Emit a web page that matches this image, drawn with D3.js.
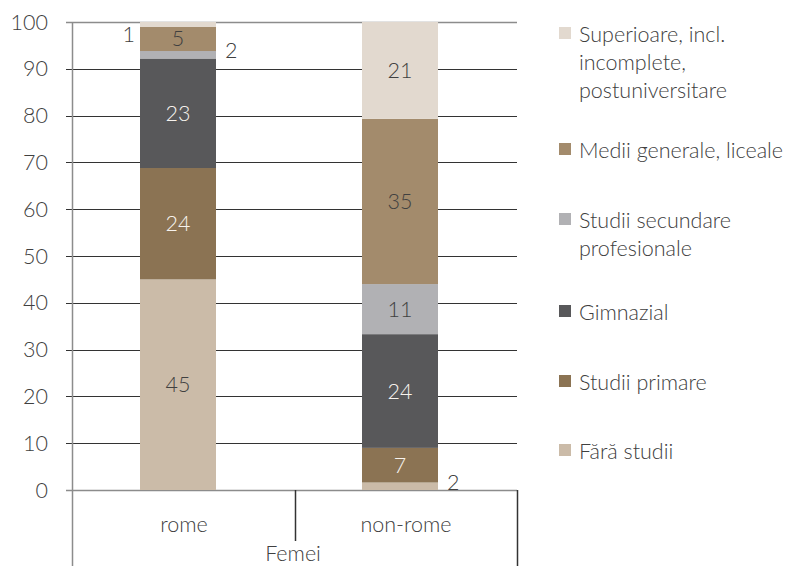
<!DOCTYPE html>
<html>
<head>
<meta charset="utf-8">
<script src="https://cdn.jsdelivr.net/npm/d3@7"></script>
<style>
  body { margin: 0; background: #fff; }
  text { font-family: Lato, "Open Sans", sans-serif; font-weight: 300; }
</style>
</head>
<body>
<div id="container"></div>
<script>

// Data (stack order bottom -> top)
var groups = ["rome", "non-rome"];
var groupLabel = "Femei";
var levels = ["Fără studii", "Studii primare", "Gimnazial", "Studii secundare profesionale", "Medii generale, liceale", "Superioare, incl. incomplete, postuniversitare"];
var romeValues = [45, 23.8, 23.4, 1.6, 5.2, 1.0];
var nonRomeValues = [1.6, 7.4, 24.3, 10.7, 35.3, 20.7];
var yTicks = [0, 10, 20, 30, 40, 50, 60, 70, 80, 90, 100];

var colors = ["#cbbba8", "#8b7353", "#58585a", "#b1b1b4", "#a38b6c", "#e2d9cf"];
var darkSeg = [false, true, true, false, false, false];

// Legend lines (top item first, as in the picture)
var legendLines = [
  ["Superioare, incl.", "incomplete,", "postuniversitare"],
  ["Medii generale, liceale"],
  ["Studii secundare", "profesionale"],
  ["Gimnazial"],
  ["Studii primare"],
  ["Fără studii"]
];
var legendTop = [34, 150, 220, 312, 382, 451];

var width = 786,
    height = 566;
var fontSize = "21.5px";
var textColor = "#404040";

var svg = d3.select("#container")
            .append("svg")
              .attr("width", width)
              .attr("height", height);

// Scales
var x = d3.scaleBand()
          .domain(groups)
          .range([73, 517]);

var y = d3.scaleLinear()
          .domain([0, 100])
          .range([490, 22]);

var barWidth = 76;

// Gridlines
svg.selectAll(".grid")
    .data(yTicks)
    .enter()
    .append("line")
      .attr("x1", 66)
      .attr("x2", 517)
      .attr("y1", function(d) { return Math.round(y(d)) + 0.5; })
      .attr("y2", function(d) { return Math.round(y(d)) + 0.5; })
      .attr("stroke", function(d) { return (d == 0 || d == 100) ? "#8c8c8c" : "#333333"; })
      .attr("stroke-width", function(d) { return (d == 0 || d == 100) ? 1.5 : 1; });

// Tick labels
svg.selectAll(".ytick")
    .data(yTicks)
    .enter()
    .append("text")
      .attr("x", 48)
      .attr("y", function(d) { return y(d); })
      .attr("dy", "0.35em")
      .attr("text-anchor", "end")
      .attr("fill", textColor)
      .style("font-size", fontSize)
      .text(function(d) { return d; });

// Stack data
var rows = levels.map(function(l, i) {
  return { level: l, rome: romeValues[i], "non-rome": nonRomeValues[i] };
});

groups.forEach(function(g) {
  var base = 0;
  var cx = x(g) + x.bandwidth() / 2 - 6;
  rows.forEach(function(r, i) {
    var v = r[g];
    var y0 = base, y1 = base + v;
    base = y1;

    svg.append("rect")
        .attr("x", cx - barWidth / 2)
        .attr("width", barWidth)
        .attr("y", y(y1))
        .attr("height", y(y0) - y(y1))
        .attr("fill", colors[i]);

    var lab = Math.round(v);
    var t = svg.append("text")
                .style("font-size", fontSize)
                .attr("fill", textColor)
                .text(lab);
    if (v >= 4) {
      t.attr("x", cx)
       .attr("y", y((y0 + y1) / 2))
       .attr("dy", "0.35em")
       .attr("text-anchor", "middle")
       .attr("fill", darkSeg[i] ? "#f7f3ee" : textColor);
    } else if (g == "rome" && i == levels.length - 1) {
      // top label sits left of the bar
      t.attr("x", cx - barWidth / 2 - 5)
       .attr("y", y(y1) + 20)
       .attr("text-anchor", "end");
    } else {
      t.attr("x", cx + barWidth / 2 + 9)
       .attr("y", y((y0 + y1) / 2) - 4)
       .attr("dy", "0.35em")
       .attr("text-anchor", "start");
    }
  });
});

// Axes lines
svg.append("line")
    .attr("x1", 72.5).attr("x2", 72.5)
    .attr("y1", 22).attr("y2", 566)
    .attr("stroke", "#8c8c8c")
    .attr("stroke-width", 1.5);

svg.append("line")
    .attr("x1", 295.5).attr("x2", 295.5)
    .attr("y1", 490).attr("y2", 541)
    .attr("stroke", "#333333")
    .attr("stroke-width", 1.5);

svg.append("line")
    .attr("x1", 517.5).attr("x2", 517.5)
    .attr("y1", 490).attr("y2", 566)
    .attr("stroke", "#333333")
    .attr("stroke-width", 1.5);

// Group labels
svg.selectAll(".xlab")
    .data(groups)
    .enter()
    .append("text")
      .attr("x", function(d) { return x(d) + x.bandwidth() / 2; })
      .attr("y", 532)
      .attr("text-anchor", "middle")
      .attr("fill", textColor)
      .style("font-size", fontSize)
      .text(function(d) { return d; });

svg.append("text")
    .attr("x", 293)
    .attr("y", 561)
    .attr("text-anchor", "middle")
    .attr("fill", textColor)
    .style("font-size", fontSize)
    .text(groupLabel);

// Legend
legendLines.forEach(function(lines, i) {
  var top = legendTop[i];
  var ci = levels.length - 1 - i;
  svg.append("rect")
      .attr("x", 559)
      .attr("y", top - 7)
      .attr("width", 12)
      .attr("height", 12)
      .attr("fill", colors[ci]);

  lines.forEach(function(line, j) {
    svg.append("text")
        .attr("x", 579)
        .attr("y", top + j * 28)
        .attr("dy", "0.35em")
        .attr("fill", textColor)
        .style("font-size", fontSize)
        .text(line);
  });
});

</script>
</body>
</html>
